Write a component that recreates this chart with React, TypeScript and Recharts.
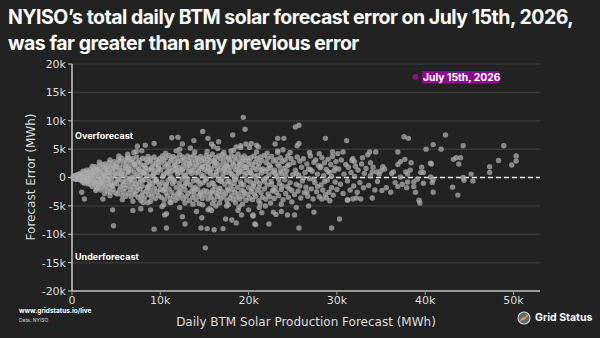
import { CartesianGrid, ReferenceLine, Scatter, ScatterChart, XAxis, YAxis } from "recharts";

// [daily BTM solar forecast (MWh), forecast error (MWh)] per day
const coreDays: [number, number][] = [
  [100, 50], [150, -80], [200, 120], [250, -40], [300, 200], [350, -150], [400, 80], [450, -220], [500, 260], [550, 10],
  [600, -300], [650, 150], [700, 350], [750, -120], [800, -380], [850, 240], [900, 420], [950, -60], [1000, -450], [1050, 300],
  [1100, 520], [1150, -250], [1200, 90], [1250, -560], [1300, 640], [1350, -330], [1400, 380], [1450, -700], [1500, 180], [1550, 720],
  [1600, -420], [1650, -90], [1700, 560], [1750, -820], [1800, 850], [1850, 260], [1900, -600], [1950, -280], [2000, 960],
  [300, -20], [500, -100], [700, 40], [900, -250], [1100, 100], [1300, -150], [1500, -350], [1700, -500], [1900, 450], [200, 300],
  [400, -350], [600, 480], [800, 600], [1000, 750], [1200, -800], [1400, -1000], [1600, 1000], [1800, -1100], [1250, 1100], [1650, 1300],
  [2050, -1200], [2100, 1400], [2150, 300], [2200, -500], [2250, 800], [2300, -1600], [2350, 1100], [2400, -200], [2450, 1700], [2500, -900],
  [2550, 500], [2600, -1400], [2650, 1900], [2700, -300], [2750, 1200], [2800, -2000], [2850, 700], [2900, -1100], [2950, 1500], [3000, 100],
  [3050, -1700], [3100, 2100], [3150, -600], [3200, 900], [3250, -2200], [3300, 1300], [3350, -100], [3400, 2300], [3450, -1300], [3500, 600],
  [3550, -800], [3600, 1800], [3650, -1900], [3700, 200], [3750, 2400], [3800, -1500], [3850, 1000], [3900, -400], [3950, 2000], [4000, -2400],
  [4050, 1400], [4100, -1000], [4150, 400], [4200, 2600], [4250, -1800], [4300, 800], [4350, -2600], [4400, 1700], [4450, -200], [4500, 2200],
  [4550, -1400], [4600, 1100], [4650, -2100], [4700, 300], [4750, 2800], [4800, -900], [4850, 1500], [4900, -2700], [4950, 600], [5000, 2000],
  [2200, 1000], [2600, -800], [3000, -1300], [3400, -600], [3800, 1600], [4200, -500], [4600, -1500], [2400, 600], [2800, 1500], [3200, -1000],
  [3600, 400], [4000, 900], [4400, -1200], [4800, 1900], [3100, 2700], [4300, 3100], [3700, -2800], [2300, 2000], [2700, -2300],
  [5050, -1100], [5100, 2500], [5150, -2900], [5200, 700], [5250, 3200], [5300, -400], [5350, 1800], [5400, -2200], [5450, 2900], [5500, -1600],
  [5550, 300], [5600, 3400], [5650, -3100], [5700, 1200], [5750, -700], [5800, 2200], [5850, -2500], [5900, 500], [5950, 3000], [6000, -1900],
  [6050, 1600], [6100, -3300], [6150, 2600], [6200, -100], [6250, 3500], [6300, -1400], [6350, 900], [6400, -2800], [6450, 2000], [6500, -600],
  [6550, 3100], [6600, -2100], [6650, 1400], [6700, -3400], [6750, 2800], [6800, 100], [6850, -1700], [6900, 3300], [6950, -2600], [7000, 1000],
  [7050, -500], [7100, 2400], [7150, -3000], [7200, 1900], [7250, -1200], [7300, 3600], [7350, -2300], [7400, 600], [7450, 2700], [7500, -3500],
  [7550, 1500], [7600, -900], [7650, 3000], [7700, -2000], [7750, 400], [7800, 2300], [7850, -3200], [7900, 1100], [7950, -1500], [8000, 3400],
  [8050, -2700], [8100, 800], [8150, 2100], [8200, -3600], [8250, 1700], [8300, -300], [8350, 3200], [8400, -2400], [8450, 500], [8500, 2600],
  [8550, -1800], [8600, 3700], [8650, -3000], [8700, 1300], [8750, -700], [8800, 2900], [8850, -2200], [8900, 200], [8950, 3300], [9000, -3400],
  [9050, 1800], [9100, -1100], [9150, 2500], [9200, -2800], [9250, 700], [9300, 3600], [9350, -1900], [9400, 1200], [9450, -3700], [9500, 2200],
  [9550, -400], [9600, 3100], [9650, -2500], [9700, 900], [9750, 2700], [9800, -3200], [9850, 1600], [9900, -1300], [9950, 3400], [10000, -2100],
  [5200, -300], [5600, 600], [6000, -800], [6400, 1100], [6800, -1000], [7200, 200], [7600, 1400], [8000, -600], [8400, 1700], [8800, -1300],
  [9200, 400], [9600, -800], [5400, 1300], [5800, -1300], [6200, 1800], [6600, -300], [7000, 2300], [7400, -1700], [7800, -400], [8200, 900],
  [8600, -1600], [9000, 1500], [9400, -500], [9800, 2000], [6300, 4100], [7000, 4400], [7900, 4700], [8900, -4200], [5700, -3900], [8100, -4400], [6900, -4200],
  [10050, 1300], [10100, -3500], [10150, 2700], [10200, -800], [10250, 3800], [10300, -2300], [10350, 500], [10400, 3100], [10450, -3900], [10500, 1900],
  [10550, -1400], [10600, 3500], [10650, -2700], [10700, 800], [10750, 2400], [10800, -3200], [10850, 1100], [10900, -500], [10950, 3900], [11000, -2000],
  [11050, 1600], [11100, -3700], [11150, 2900], [11200, -200], [11250, 3300], [11300, -2600], [11350, 1200], [11400, -1100], [11450, 3700], [11500, -3300],
  [11550, 2000], [11600, -700], [11650, 2600], [11700, -4000], [11750, 1400], [11800, -1800], [11850, 3400], [11900, -2900], [11950, 600], [12000, 2800],
  [12050, -3600], [12100, 1800], [12150, -1000], [12200, 4000], [12250, -2400], [12300, 900], [12350, 3000], [12400, -3100], [12450, 1500], [12500, -300],
  [12550, 3600], [12600, -3800], [12650, 2200], [12700, -1500], [12750, 3200], [12800, -2200], [12850, 400], [12900, 2500], [12950, -3400], [13000, 1700],
  [13050, -800], [13100, 3800], [13150, -2800], [13200, 1000], [13250, 2900], [13300, -4100], [13350, 2100], [13400, -1300], [13450, 3500], [13500, -2500],
  [13550, 700], [13600, 2700], [13650, -3500], [13700, 1300], [13750, -600], [13800, 3900], [13850, -3000], [13900, 1900], [13950, -1700], [14000, 3100],
  [14050, -3900], [14100, 2300], [14150, -400], [14200, 3400], [14250, -2100], [14300, 1100], [14350, 2600], [14400, -3300], [14450, 1600], [14500, -1200],
  [14550, 3700], [14600, -2700], [14650, 500], [14700, 3000], [14750, -3700], [14800, 2000], [14850, -900], [14900, 3300], [14950, -2300], [15000, 1400],
  [10300, 200], [10700, -1200], [11100, 600], [11500, -400], [11900, 1100], [12300, -1700], [12700, 300], [13100, -200], [13500, 1200], [13900, -2200],
  [14300, -700], [14700, 1800], [10500, -2000], [10900, 2200], [11300, -100], [11700, 2100], [12100, -2700], [12500, 1300], [12900, -1000], [13300, 2400],
  [13700, -2000], [14100, 800], [14500, -2900], [14900, 300], [10600, 4300], [11800, 4700], [12800, -4500], [13900, 4500], [14400, -4600], [11200, -4400],
  [12200, 5000], [13400, 5200], [10400, -4800], [14800, -4800],
  [15050, -3100], [15100, 2600], [15150, -500], [15200, 3900], [15250, -2400], [15300, 1100], [15350, 3200], [15400, -3800], [15450, 1800], [15500, -1300],
  [15550, 3600], [15600, -2900], [15650, 700], [15700, 2800], [15750, -3500], [15800, 1500], [15850, -900], [15900, 4100], [15950, -2200], [16000, 300],
  [16050, 3000], [16100, -4000], [16150, 2100], [16200, -1600], [16250, 3500], [16300, -2700], [16350, 1000], [16400, 2500], [16450, -3300], [16500, 1700],
  [16550, -400], [16600, 3800], [16650, -3000], [16700, 1300], [16750, -1900], [16800, 3300], [16850, -3700], [16900, 2200], [16950, -700], [17000, 4000],
  [17050, -2500], [17100, 600], [17150, 2900], [17200, -3400], [17250, 1600], [17300, -1200], [17350, 3700], [17400, -2800], [17450, 900], [17500, 2400],
  [17550, -4100], [17600, 2000], [17650, -600], [17700, 3400], [17750, -2300], [17800, 1200], [17850, 3100], [17900, -3600], [17950, 1800], [18000, -1400],
  [18050, 3900], [18100, -3100], [18150, 500], [18200, 2700], [18250, -3900], [18300, 2300], [18350, -1000], [18400, 3600], [18450, -2600], [18500, 1400],
  [18550, -300], [18600, 3200], [18650, -3500], [18700, 1900], [18750, -1700], [18800, 4100], [18850, -2900], [18900, 800], [18950, 2600], [19000, -3800],
  [19050, 1500], [19100, -800], [19150, 3500], [19200, -2200], [19250, 1100], [19300, 2900], [19350, -3300], [19400, 2100], [19450, -1300], [19500, 3800],
  [19550, -2700], [19600, 400], [19650, 3000], [19700, -4000], [19750, 1700], [19800, -500], [19850, 3400], [19900, -3000], [19950, 2200], [20000, -1800],
  [15200, -200], [15600, 1200], [16000, -1100], [16400, 500], [16800, -600], [17200, 1400], [17600, -2000], [18000, 700], [18400, -300], [18800, 1000],
  [19200, -1200], [19600, 1800], [15400, 2300], [15800, -2600], [16200, 2700], [16600, -2200], [17000, -100], [17400, 2000], [17800, -700], [18200, -2100],
  [18600, 200], [19000, 2300], [19400, -2400], [19800, 800], [15300, 4600], [16500, 5100], [17200, 4400], [18300, 4800], [19100, 5300], [15900, -4600],
  [16700, -4500], [17700, -4800], [18500, -4400], [19300, -4700], [16300, -5000], [18900, -5200],
  [20050, 2900], [20100, -3600], [20150, 1200], [20200, -800], [20250, 3500], [20300, -2500], [20350, 600], [20400, 2300], [20450, -3900], [20500, 1700],
  [20550, -1500], [20600, 3800], [20650, -2900], [20700, 200], [20750, 2700], [20800, -3300], [20850, 1400], [20900, -600], [20950, 3300], [21000, -2200],
  [21100, 1900], [21150, -4100], [21200, 2500], [21250, -1000], [21300, 3600], [21400, -2700], [21450, 800], [21500, 3000], [21550, -3500], [21600, 1500],
  [21700, -300], [21750, 3900], [21800, -2000], [21900, 1100], [21950, -3800], [22000, 2600], [22100, -1300], [22150, 3400], [22200, -2900], [22300, 500],
  [22350, 2200], [22400, -3400], [22500, 1800], [22550, -700], [22600, 3700], [22700, -2400], [22750, 1000], [22800, 2900], [22900, -3700], [22950, 1300],
  [23000, -1800], [23100, 3200], [23150, -2600], [23200, 300], [23300, 2400], [23400, -3200], [23450, 2000], [23500, -1100], [23600, 3500], [23700, -2100],
  [23750, 700], [23800, 2800], [23900, -3900], [24000, 1600], [24100, -400], [24150, 3100], [24200, -2800], [24300, 1200], [24400, -1600], [24450, 3800],
  [24500, -3500], [24600, 2300], [24700, -900], [24800, 3300], [24900, -2300], [25000, 500],
  [20200, 900], [20600, -1100], [21000, 400], [21400, 1300], [21800, -700], [22200, 1500], [22600, -1200], [23000, 700], [23400, -300], [23800, -1500],
  [24200, 400], [24600, -2000], [20400, -2000], [21200, -1700], [22000, -100], [22800, -2200], [23600, 1100], [24400, 2100], [20900, 4500], [22100, 4300],
  [23300, 4700], [24700, 4400], [21300, -4600], [22500, -4500], [23700, -4700], [24900, -4300],
  [25100, 2600], [25200, -3000], [25300, 1300], [25400, -1200], [25500, 3600], [25600, -2400], [25700, 400], [25800, 2900], [25900, -3600], [26000, 1800],
  [26100, -600], [26200, 3300], [26300, -2700], [26400, 900], [26500, -1700], [26600, 2400], [26700, -3300], [26800, 1500], [26900, -200], [27000, 3800],
  [27100, -2000], [27200, 1100], [27300, -3800], [27400, 2700], [27500, -900], [27600, 3100], [27700, -2500], [27800, 600], [27900, 2100], [28000, -3400],
  [28100, 1700], [28200, -1300], [28300, 3500], [28400, -2200], [28500, 300], [28600, 2600], [28700, -3000], [28800, 1400], [28900, -500], [29000, 3200],
  [29100, -2600], [29200, 900], [29300, 2300], [29400, -1800], [29500, 3700], [29600, -3100], [29700, 1200], [29800, -800], [29900, 2800], [30000, -2100],
  [25400, 700], [25800, -1500], [26200, -100], [26600, -2600], [27000, 1400], [27400, -400], [27800, -1600], [28200, 2000], [28600, -700], [29000, 1000],
  [29400, 200], [29800, 1700],
  [30200, 1500], [30400, -1200], [30500, 3100], [30700, -2800], [30800, 600], [31000, 2300], [31200, -600], [31300, 1800], [31500, -2200], [31600, 900],
  [31700, 3000], [31900, -1500], [32000, 200], [32100, 2000], [32300, -2600], [32400, 1300], [32600, -900], [32800, 2400], [33000, -1800], [33100, 700],
  [33300, 1600], [33600, -1400], [33800, 300], [34100, 1800], [34300, -2200], [34600, -700], [35000, 1200], [35600, -1800], [36200, 700], [36600, -900],
  [37400, -1200], [38300, 1300], [39100, -300], [39600, 1800],
];

const outlierDays: [number, number][] = [
  [1100, -2600], [1400, -3800], [3500, -3800], [4300, -3200], [4600, -5700], [4700, -8500], [5300, 3800], [6400, 3500], [7300, 4600], [7400, 5500],
  [6900, -5800], [7800, -5500], [7800, -4100], [8300, 5700], [8600, -4400], [8900, -5700], [9300, 6000], [9300, -9100], [10200, -5100], [10500, -6600],
  [10700, -8900], [10700, -6400], [11100, -4400], [11300, 7000], [12000, 7100], [12200, -5300], [12500, 5900], [12500, -6900], [12800, -8200], [13700, -4700],
  [13800, 6500], [14100, -6000], [14600, -8900], [14700, -7100], [14800, 8100], [15100, -12400], [15300, -9000], [15400, 6900], [15400, -5700], [15600, -5500],
  [15800, -5800], [15800, 5900], [16000, 5500], [16100, -9200], [16600, 6300], [17100, -9000], [17400, -7300], [17500, -5000], [18000, 4700], [18100, -7500],
  [18200, 7500], [18600, 5400], [18600, -8000], [18800, -5800], [19100, 5600], [19200, -6600], [19400, 10600], [19600, 8500], [19700, 5900], [20000, -5700],
  [20100, 5300], [20300, 6000], [20500, -6800], [20500, -6600], [20700, -8200], [20800, -8300], [20900, 5700], [21100, 5400], [21200, -5300], [21500, -6200],
  [21900, -5000], [22300, -8200], [22800, -6100], [23000, 5900], [23100, -6500], [23300, 6900], [23300, 4400], [23700, -6000], [23900, 4900], [24000, 6900],
  [24400, -6600], [25200, -6600], [25300, 8900], [25400, -5300], [25500, 5600], [25700, 6000], [25700, 9200], [25700, -8900], [26800, -5000], [26900, 4400],
  [27400, -6100], [28000, 4200], [28300, -3800], [28700, 6900], [28800, -3600], [29200, -4100], [29400, -8900], [29500, 4500], [30100, 4200], [30300, -7300],
  [30700, 4500], [31100, 6500], [31200, -4000], [31200, -3900], [31800, 3300], [31800, -3800], [32000, 2800], [32200, -3600], [32700, -3800], [32900, 3500],
  [33500, 4000], [33700, 4500], [33800, 2600], [34000, 1000], [34000, -3600], [34400, 4500], [34500, 1000], [34800, 600], [35100, -2300], [35200, 1900],
  [35400, 1500], [36100, -2600], [36400, 1000], [36900, 4500], [36900, 2300], [36900, -1600], [37200, 2800], [37200, 100], [37600, 7200], [37700, 3200],
  [37800, 1000], [37900, -1800], [38000, 600], [38000, -800], [38100, 6900], [38400, 2600], [38700, -800], [38700, -1600], [38900, -2600], [39300, -4000],
  [39400, -4500], [39500, 900], [39800, 900], [39800, -1000], [40100, 5000], [40600, 2500], [40600, 100], [40700, 2400], [40800, -900], [40900, 5800],
  [40900, -400], [40900, -2600], [41800, 5000], [42300, 7500], [43100, -1700], [43200, 3200], [43500, 3500], [43700, -3100], [43800, 2400], [44000, 3500],
  [44300, 5600], [44300, 0], [44400, -500], [45200, 600], [45400, -600], [47300, 1900], [47300, 900], [48300, 3000], [48900, 5600], [49800, 2200],
  [50300, 3800], [50300, 2900],
];

const highlightDay = { label: "July 15th, 2026", forecast: 38900, error: 17700 };

const xTicks = [0, 10000, 20000, 30000, 40000, 50000];
const yTicks = [-20000, -15000, -10000, -5000, 0, 5000, 10000, 15000, 20000];

const dayData = [...coreDays, ...outlierDays].map(([forecast, error]) => ({ forecast, error }));
const highlightData = [highlightDay];

const BG = "#222222";
const MAGENTA = "#8e0c8c";
const AXIS_FONT = "DejaVu Sans, sans-serif";
const UI_FONT = "Inter, sans-serif";

function formatK(value: number) {
  return value === 0 ? "0" : `${value / 1000}k`;
}

function DayDot({ cx, cy }: { cx?: number; cy?: number }) {
  return <circle cx={cx} cy={cy} r={2.7} fill="#aaaaaa" fillOpacity={0.76} />;
}

function HighlightDot(props: any) {
  const { cx, cy, payload } = props;
  return (
    <g>
      <circle cx={cx} cy={cy} r={3} fill={MAGENTA} />
      <rect x={cx + 6.5} y={cy - 6} width={77} height={12.5} fill={MAGENTA} />
      <text x={cx + 7.5} y={cy + 4} fill="#ffffff" fontSize={10.3} fontWeight={700} fontFamily={UI_FONT}>
        {payload.label}
      </text>
    </g>
  );
}

export default function App() {
  return (
    <div
      style={{
        position: "fixed",
        left: 0,
        top: 0,
        width: 600,
        height: 338,
        background: BG,
        overflow: "hidden",
      }}
    >
      <div
        style={{
          position: "absolute",
          left: 8,
          top: 4,
          color: "#ffffff",
          fontFamily: UI_FONT,
          fontWeight: 700,
          fontSize: 19.5,
          lineHeight: "26px",
          letterSpacing: -0.5,
          whiteSpace: "nowrap",
        }}
      >
        NYISO’s total daily BTM solar forecast error on July 15th, 2026,
        <br />
        was far greater than any previous error
      </div>

      <div style={{ position: "absolute", left: 0, top: 0 }}>
        <ScatterChart width={600} height={338} margin={{ top: 64, right: 60, bottom: 17, left: 0 }}>
          <CartesianGrid vertical={false} stroke="#363636" strokeWidth={1.5} />
          <XAxis
            type="number"
            dataKey="forecast"
            domain={[0, 53000]}
            ticks={xTicks}
            tickFormatter={formatK}
            height={30}
            tickSize={4}
            tickMargin={1}
            stroke="#9a9a9a"
            axisLine={{ stroke: "#9a9a9a", strokeWidth: 2 }}
            tick={{ fill: "#dddddd", fontSize: 11, fontFamily: AXIS_FONT }}
          />
          <YAxis
            type="number"
            dataKey="error"
            domain={[-20000, 20000]}
            ticks={yTicks}
            tickFormatter={formatK}
            width={72}
            tickSize={4}
            tickMargin={2}
            stroke="#c8c8c8"
            axisLine={{ stroke: "#c8c8c8", strokeWidth: 1.5 }}
            tick={{ fill: "#dddddd", fontSize: 11, fontFamily: AXIS_FONT }}
          />
          <Scatter data={dayData} shape={DayDot} isAnimationActive={false} />
          <ReferenceLine y={0} stroke="#e8e8e8" strokeWidth={1.5} strokeDasharray="5 3" />
          <Scatter data={highlightData} dataKey="error" shape={HighlightDot} isAnimationActive={false} />
        </ScatterChart>
      </div>

      <div
        style={{
          position: "absolute",
          left: 31,
          top: 177,
          transform: "translate(-50%, -50%) rotate(-90deg)",
          color: "#dddddd",
          fontFamily: AXIS_FONT,
          fontSize: 12,
          whiteSpace: "nowrap",
        }}
      >
        Forecast Error (MWh)
      </div>
      <div
        style={{
          position: "absolute",
          left: 306,
          top: 322,
          transform: "translate(-50%, -50%)",
          color: "#dddddd",
          fontFamily: AXIS_FONT,
          fontSize: 12,
          whiteSpace: "nowrap",
        }}
      >
        Daily BTM Solar Production Forecast (MWh)
      </div>

      <div style={{ position: "absolute", left: 75, top: 130, color: "#fff", fontFamily: UI_FONT, fontWeight: 700, fontSize: 9 }}>
        Overforecast
      </div>
      <div style={{ position: "absolute", left: 75, top: 251, color: "#fff", fontFamily: UI_FONT, fontWeight: 700, fontSize: 9 }}>
        Underforecast
      </div>

      <div style={{ position: "absolute", left: 19, top: 307, color: "#fff", fontFamily: UI_FONT, fontWeight: 700, fontSize: 6.5 }}>
        www.gridstatus.io/live
      </div>
      <div style={{ position: "absolute", left: 19, top: 317, color: "#ddd", fontFamily: UI_FONT, fontSize: 5 }}>
        Data: NYISO
      </div>

      <svg style={{ position: "absolute", left: 517, top: 311 }} width={14} height={14}>
        <circle cx={7} cy={7} r={6} fill="#5a6a72" stroke="#c9c9c9" strokeWidth={1.2} />
        <path d="M3 10 L7 6 L6 9 L11 4" stroke="#f08a3c" strokeWidth={1.6} fill="none" />
      </svg>
      <div style={{ position: "absolute", left: 535, top: 311, color: "#fff", fontFamily: UI_FONT, fontWeight: 700, fontSize: 10.5, whiteSpace: "nowrap" }}>
        Grid Status
      </div>
    </div>
  );
}
